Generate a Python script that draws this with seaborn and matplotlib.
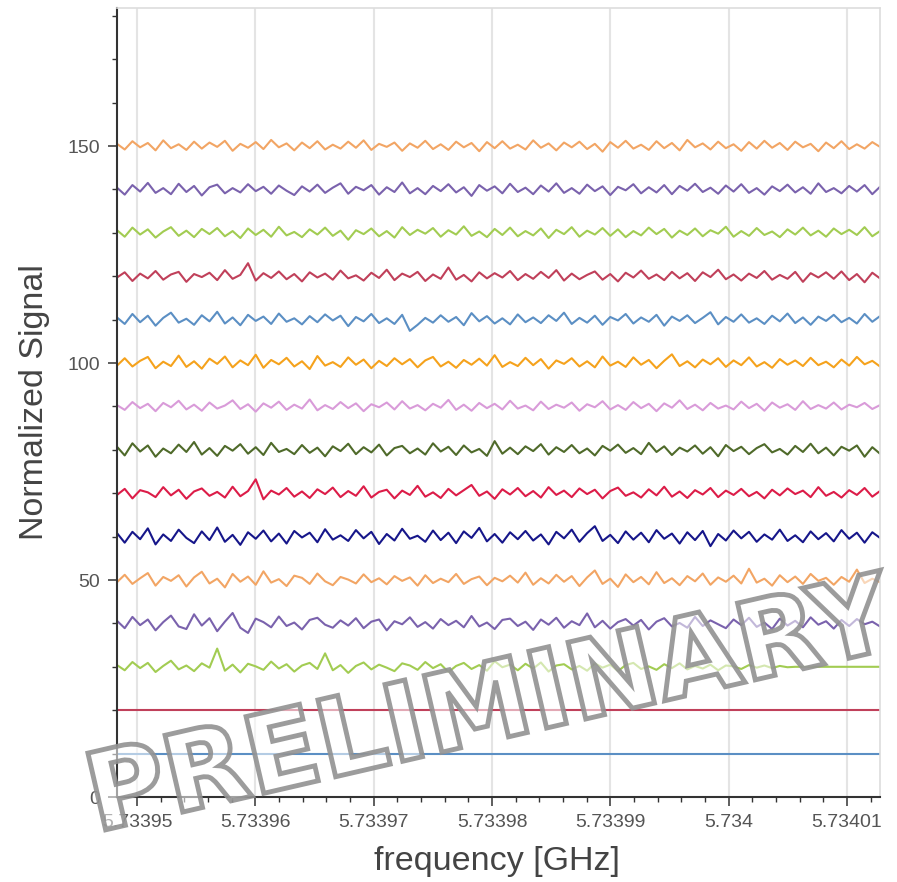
import numpy as np
import pandas as pd
import matplotlib
matplotlib.use("Agg")
import matplotlib.pyplot as plt
import seaborn as sns
from matplotlib.textpath import TextPath
from matplotlib.patches import PathPatch
from matplotlib.font_manager import FontProperties
from matplotlib.transforms import Affine2D
from matplotlib.ticker import FixedLocator, MultipleLocator

# Frequency sweep (GHz)
freq_start = 5.7339483
freq_stop = 5.7340128

# Vertical offset of each stacked trace
offsets = [10, 20, 30, 40, 50, 60, 70, 80, 90, 100, 110, 120, 130, 140, 150]

# Deviations around each offset
dev_10 = [0.0, 0.0]
dev_20 = [0.0, 0.0]
dev_30 = [0.4,-0.8,1.1,-0.3,0.9,-1.2,0.2,1.4,-0.6,0.3,-1.0,0.8,-0.2,4.2,-0.9,0.5,-1.3,0.7,0.1,-0.7,1.2,-0.4,0.6,-1.1,0.3,0.9,-0.5,3.1,-0.8,0.4,-1.4,0.2,1.0,-0.6,0.5,-0.2,-1.0,0.8,0.3,-0.7,1.1,-0.3,0.6,-1.2,0.2,0.9,-0.5,0.4,-0.9,1.3,-0.1,0.5,-0.8,0.7,-0.4,1.0,-1.1,0.3,0.6,-0.6,0.2,-0.9,0.8,-0.2,0.5,-1.0,0.4,0.9,-0.5,0.1,-0.7,0.6,-0.3,0.8,-0.6,0.2,-0.4,0.5,-0.8,0.3,0.1,-0.5,0.4,-0.2,0.3,-0.3,0.2,-0.1,0.0,0.0,0.0,0.0,0.0,0.0,0.0,0.0,0.0,0.0,0.0,0.0]
dev_40 = [0.6,-1.1,1.5,-0.4,0.9,-1.6,0.3,1.8,-0.7,-1.3,2.1,-0.5,1.2,-1.8,0.4,2.4,-1.0,-2.2,1.1,0.3,-0.9,1.6,-0.6,0.2,-1.4,0.8,1.3,-0.3,-1.0,0.7,-0.5,1.2,-1.1,0.4,0.9,-1.6,0.5,-0.2,1.4,-0.8,0.3,-1.2,1.0,-0.4,0.6,-0.9,1.7,-0.7,0.2,-1.3,0.8,1.1,-0.6,0.4,-1.5,0.9,-0.3,1.3,-1.0,0.5,-0.4,2.3,-0.9,0.6,-1.2,0.3,1.0,-0.5,0.8,-1.4,0.4,1.2,-0.7,0.1,-1.0,1.5,-0.6,0.7,-0.2,-1.1,0.9,-0.4,1.3,-0.8,0.2,-1.3,1.1,-0.5,0.6,-0.9,1.4,-0.3,0.5,-1.2,0.8,-0.6,1.0,-0.2,0.4,-0.7]
dev_50 = [-0.5,1.2,-0.9,0.4,1.6,-1.3,0.7,-0.2,1.1,-1.5,0.6,1.9,-0.8,0.3,-1.7,1.4,-0.4,0.8,-1.1,2.0,-0.6,0.2,-1.4,1.0,0.5,-0.9,1.5,-0.3,-1.2,0.7,0.1,-0.8,1.3,-0.5,0.4,-1.0,0.9,-0.2,0.6,-1.3,1.1,-0.7,0.3,-0.5,1.4,-0.9,0.2,0.8,-1.2,0.5,-0.3,1.0,-0.6,1.7,-1.1,0.4,-0.8,1.2,-0.4,0.9,-1.4,0.6,2.2,-0.9,0.3,-1.6,1.3,-0.5,0.7,-1.0,1.8,-0.7,0.4,-1.2,0.9,-0.3,1.5,-1.1,0.6,-0.4,1.0,-0.8,2.6,-0.6,0.3,-1.3,1.1,-0.5,0.8,-0.9,1.4,-0.2,0.5,-1.1,0.7,-0.4,2.4,-0.7,0.3,-0.5]
dev_60 = [0.8,-1.4,1.1,-0.6,1.9,-1.8,0.5,-1.0,1.6,-0.3,-1.5,1.2,-0.8,2.1,-1.2,0.4,-1.9,1.0,-0.5,1.4,-1.1,0.7,-1.6,1.3,-0.2,0.9,-1.3,1.7,-0.7,0.3,-1.0,1.5,-0.4,1.1,-1.7,0.6,-0.9,1.8,-0.5,0.2,-1.2,1.4,-0.8,0.9,-1.5,1.2,-0.3,2.0,-1.1,0.6,-1.4,1.0,-0.6,1.3,-0.9,0.5,-1.8,1.1,-0.4,1.6,-1.2,0.8,2.4,-1.0,0.4,-1.5,1.2,-0.7,0.9,-1.3,1.5,-0.5,0.7,-1.6,1.0,-0.8,1.3,-2.2,0.6,-0.9,1.4,-0.4,1.1,-1.2,0.5,-0.7,1.6,-1.0,0.3,-1.3,1.2,-0.6,0.8,-1.1,1.5,-0.5,0.9,-1.4,1.0,-0.3]
dev_70 = [-0.4,1.0,-1.2,0.7,0.2,-0.9,1.4,-0.5,0.8,-1.3,0.4,1.1,-0.6,0.3,-1.0,1.5,-0.7,0.5,3.2,-1.4,0.6,-0.3,1.2,-0.8,0.4,-1.1,0.9,-0.2,1.3,-0.9,0.5,-0.6,1.6,-1.0,0.3,0.8,-1.2,0.6,-0.4,1.7,-0.8,0.2,-1.1,1.0,-0.5,0.7,1.9,-0.6,0.4,-1.3,0.9,-0.3,1.2,-0.7,0.5,-1.0,1.4,-0.4,0.6,-0.9,1.1,-0.2,0.8,-1.2,0.5,1.3,-0.6,0.2,-1.0,0.9,-0.5,1.5,-0.8,0.4,-1.1,0.7,-0.3,1.2,-0.9,0.6,-0.4,1.0,-0.7,0.3,-1.2,0.8,-0.5,1.1,-0.2,0.6,-0.9,1.4,-0.6,0.3,-1.0,0.7,-0.4,1.2,-0.8,0.5]
dev_80 = [0.7,-1.3,1.5,-0.4,1.0,-1.6,0.3,-0.8,1.2,-0.5,1.8,-1.1,0.4,-1.4,0.9,-0.2,1.3,-0.9,0.6,-1.2,1.6,-0.5,0.2,-1.0,1.1,-0.7,0.5,-1.5,0.8,-0.3,1.4,-1.0,0.6,-0.6,1.2,-1.3,0.4,0.9,-0.8,0.3,-1.1,1.5,-0.4,0.7,-1.2,1.0,-0.6,0.2,-1.4,2.0,-0.9,0.5,-1.0,0.8,-0.3,1.3,-1.1,0.6,-0.5,1.1,-0.8,0.3,-1.3,0.9,-0.2,1.2,-0.7,0.4,-1.0,1.6,-0.5,0.8,-1.2,0.5,-0.4,1.0,-0.9,0.6,-1.5,1.1,-0.3,0.7,-1.0,0.4,1.3,-0.6,0.2,-1.1,0.9,-0.5,1.4,-0.8,0.5,-1.3,0.7,-0.2,1.0,-1.6,0.6,-0.9]
dev_90 = [0.3,-0.8,1.0,-0.4,0.6,-1.1,0.8,-0.2,1.3,-0.7,0.4,-1.0,0.9,-0.5,0.2,1.4,-0.6,0.5,-1.2,0.7,-0.3,1.1,-0.8,0.4,-0.5,1.6,-0.9,0.3,-0.6,1.0,-0.4,0.7,-1.1,0.5,-0.2,0.9,-0.7,1.2,-0.5,0.3,-0.9,0.6,-0.3,1.5,-0.8,0.4,-1.0,0.8,-0.4,0.6,-0.7,1.3,-0.5,0.2,-0.9,1.1,-0.6,0.4,-0.3,0.9,-1.0,0.5,-0.2,1.2,-0.7,0.3,-0.8,1.0,-0.4,0.6,-1.1,0.7,-0.3,1.4,-0.6,0.4,-0.9,0.8,-0.5,0.2,-0.7,1.1,-0.4,0.6,-1.0,0.9,-0.3,0.5,-0.8,1.2,-0.6,0.3,-0.5,0.9,-0.7,0.4,-0.2,0.8,-0.6,0.3]
dev_100 = [-0.6,1.1,-0.8,0.5,1.4,-1.2,0.3,-0.7,1.7,-0.9,0.4,-1.3,1.0,-0.2,1.5,-1.0,0.6,-0.5,1.9,-1.1,0.7,-0.3,1.2,-0.8,0.4,-1.4,1.6,-0.6,0.2,-0.9,1.3,-0.4,0.8,-1.2,0.5,-0.7,1.1,-0.3,0.9,-1.0,0.6,1.4,-0.8,0.3,-1.1,0.7,-0.4,1.0,-0.6,1.8,-0.9,0.2,-0.7,1.2,-0.5,0.9,-1.3,0.6,-0.2,1.1,-0.8,0.4,-1.0,1.5,-0.6,0.3,-0.9,1.3,-0.4,0.7,-1.2,0.5,2.0,-0.7,0.4,-1.0,0.8,-0.3,1.1,-0.9,0.6,-0.5,1.3,-0.8,0.2,-1.1,0.9,-0.4,0.6,-0.7,1.2,-0.5,0.3,-1.0,0.8,-0.6,1.4,-0.3,0.5,-0.8]
dev_110 = [0.5,-1.0,1.3,-0.6,0.9,-1.4,0.4,1.6,-0.7,0.2,-1.2,1.0,-0.4,1.8,-0.9,0.5,-1.3,1.1,-0.3,0.7,-1.0,1.4,-0.5,0.3,-1.1,0.8,-0.6,1.2,-0.2,0.9,-1.5,0.6,-0.4,1.3,-0.8,0.3,-1.0,1.1,-2.6,-1.2,0.4,-0.7,1.0,-0.5,0.6,-1.3,1.5,-0.4,0.8,-0.9,0.3,-1.1,1.2,-0.6,0.5,-0.8,1.0,-0.3,1.6,-1.0,0.4,-0.7,0.9,-1.2,0.6,-0.2,1.3,-0.9,0.5,-0.5,1.1,-1.4,0.7,-0.3,1.0,-0.8,0.4,1.7,-1.1,0.6,-0.5,1.2,-0.7,0.3,-1.0,0.9,-0.4,1.4,-0.8,0.5,-1.2,0.7,-0.3,1.1,-0.6,0.4,-0.9,1.3,-0.5,0.8]
dev_120 = [-0.3,0.9,-1.1,0.6,-0.5,1.2,-0.8,0.4,1.0,-1.3,0.5,-0.2,0.8,-0.9,1.4,-0.6,0.3,3.0,-1.0,0.7,-0.4,1.1,-0.7,0.5,-1.2,0.9,-0.3,0.6,-0.8,1.3,-0.5,0.2,-1.0,0.8,-0.4,1.5,-0.9,0.6,-0.2,1.0,-1.1,0.4,-0.6,2.0,-0.8,0.3,-1.2,0.9,-0.5,0.7,-0.3,1.2,-0.9,0.5,-0.6,1.0,-0.4,1.4,-1.0,0.6,-0.7,0.3,1.1,-0.8,0.5,-1.2,0.8,-0.3,1.3,-0.6,0.4,-0.9,1.0,-0.5,0.7,-1.1,0.9,-0.2,1.5,-0.7,0.4,-1.0,0.6,-0.4,1.2,-0.8,0.3,-0.6,1.0,-1.3,0.7,-0.3,0.9,-0.6,1.1,-0.9,0.5,-1.4,0.8,-0.5]
dev_130 = [0.6,-0.9,1.2,-0.4,0.8,-1.1,0.3,1.3,-0.7,0.5,-1.0,0.9,-0.3,1.1,-0.8,0.4,-1.2,1.0,-0.5,0.7,-0.9,1.4,-0.6,0.2,-1.0,0.8,-0.4,1.2,-0.7,0.5,-1.6,0.6,-0.3,1.0,-0.8,0.4,-1.1,1.3,-0.5,0.7,-0.2,1.1,-0.9,0.6,-0.4,1.5,-0.7,0.3,-1.0,0.9,-0.5,1.2,-0.8,0.4,-0.6,1.0,-1.2,0.7,-0.3,1.3,-0.9,0.5,-0.4,1.1,-0.7,0.8,-1.0,0.4,-0.6,1.2,-0.3,0.9,-1.1,0.5,-0.5,1.0,-0.8,0.6,-0.2,1.4,-0.9,0.4,-0.7,1.1,-0.5,0.3,-1.0,0.8,-0.4,1.2,-0.6,0.5,-0.9,1.0,-0.3,0.7,-0.5,1.3,-0.8,0.4]
dev_140 = [0.4,-1.2,1.0,-0.5,1.5,-0.8,0.3,-1.1,1.3,-0.6,0.8,-1.4,0.5,1.1,-0.9,0.3,-0.7,1.2,-0.4,0.6,-1.0,0.9,-0.3,-1.3,0.7,-0.5,1.1,-0.8,0.4,1.4,-1.0,0.6,-0.2,1.0,-1.2,0.5,-0.6,1.6,-0.9,0.3,-1.1,0.8,-0.4,1.2,-0.7,0.5,-1.5,1.0,-0.3,0.7,-0.9,1.3,-0.6,0.4,-1.1,0.9,-0.5,1.4,-0.8,0.3,-1.0,1.1,-0.4,0.7,-1.3,0.6,-0.2,1.2,-0.9,0.5,-0.7,1.0,-1.1,0.8,-0.3,1.3,-0.6,0.4,-1.0,0.9,-0.5,1.2,-0.8,0.3,-1.2,0.7,-0.4,1.1,-0.7,0.5,-1.0,1.4,-0.6,0.3,-0.9,0.8,-0.5,1.0,-1.1,0.6]
dev_150 = [0.5,-0.8,1.1,-0.3,0.7,-1.0,1.3,-0.5,0.4,-0.9,1.0,-0.6,0.8,-0.2,1.2,-1.1,0.5,-0.4,0.9,-0.7,1.4,-0.3,0.6,-1.0,0.8,-0.5,1.1,-0.8,0.3,-0.6,1.0,-0.4,1.3,-0.9,0.5,-0.2,0.8,-1.1,0.6,-0.4,1.2,-0.7,0.4,-0.9,1.0,-0.3,0.7,-1.2,0.9,-0.5,1.1,-0.6,0.3,-0.8,1.3,-0.4,0.6,-1.0,0.8,-0.3,1.0,-0.7,0.5,-1.3,0.9,-0.4,1.2,-0.6,0.3,-0.9,1.1,-0.5,0.7,-1.0,1.4,-0.3,0.6,-0.8,1.0,-0.5,0.4,-1.1,0.9,-0.6,1.2,-0.4,0.7,-0.9,1.0,-0.3,0.5,-1.2,0.8,-0.5,1.1,-0.7,0.4,-0.6,0.9,-0.2]

deviations = [dev_10, dev_20, dev_30, dev_40, dev_50, dev_60, dev_70, dev_80,
              dev_90, dev_100, dev_110, dev_120, dev_130, dev_140, dev_150]

# Ten-colour cycle, repeated for the upper traces
cycle_colors = ["#5b8fc4", "#c0405a", "#a2cc52", "#7a62ad", "#f2a564",
                "#16168a", "#dc1c48", "#4f6a2a", "#d99bd9", "#f5a21c"]

x_ticks = [5.73395, 5.73396, 5.73397, 5.73398, 5.73399, 5.73400, 5.73401]
x_tick_labels = ["5.73395", "5.73396", "5.73397", "5.73398", "5.73399", "5.734", "5.73401"]
y_ticks = [0, 50, 100, 150]

# Long-form table: one row per sample
frames = []
for off, dev in zip(offsets, deviations):
    f = np.linspace(freq_start, freq_stop, len(dev))
    frames.append(pd.DataFrame({"freq": f, "signal": off + np.asarray(dev),
                                "trace": str(off)}))
df = pd.concat(frames, ignore_index=True)
palette = {str(o): cycle_colors[i % 10] for i, o in enumerate(offsets)}

sns.set_theme(style="white")
plt.rcParams["font.family"] = ["Liberation Sans", "DejaVu Sans"]

fig = plt.figure(figsize=(8.97, 8.82), dpi=100)
ax = fig.add_axes([117 / 897, 1 - 797 / 882, (880 - 117) / 897, (797 - 8) / 882])

sns.lineplot(data=df, x="freq", y="signal", hue="trace", palette=palette,
             estimator=None, sort=False, legend=False, linewidth=1.5, ax=ax)

ax.set_xlim(freq_start, freq_stop)
ax.set_ylim(0, 181.8)

ax.xaxis.set_major_locator(FixedLocator(x_ticks))
ax.set_xticklabels(x_tick_labels)
ax.xaxis.set_minor_locator(MultipleLocator(0.2e-5))
ax.set_yticks(y_ticks)
ax.yaxis.set_minor_locator(MultipleLocator(10))

ax.grid(axis="x", which="major", color="#e4e4e4", linewidth=1.5)
ax.grid(axis="y", visible=False)
ax.set_axisbelow(True)

for side in ("top", "right"):
    ax.spines[side].set_color("#dddddd")
    ax.spines[side].set_linewidth(1.2)
for side in ("left", "bottom"):
    ax.spines[side].set_color("#333333")
    ax.spines[side].set_linewidth(1.5)

ax.tick_params(axis="both", which="major", direction="out", length=6.5, width=1.1,
               color="#333333", labelsize=14, labelcolor="#555555")
ax.tick_params(axis="both", which="minor", direction="out", length=3.5, width=1.0,
               color="#333333")
ax.tick_params(axis="x", which="major", pad=6)
ax.tick_params(axis="y", which="major", pad=6)
ax.tick_params(top=False, right=False, which="both")
ax.tick_params(left=True, bottom=True, which="both")

ax.set_xlabel("frequency [GHz]", fontsize=24.5, color="#444444")
ax.set_ylabel("Normalized Signal", fontsize=24.5, color="#444444")
ax.xaxis.set_label_coords(0.498, -0.062)
ax.yaxis.set_label_coords(-0.088, 0.5)

# Outlined watermark across the lower half of the plot
fp = FontProperties(family="DejaVu Sans", weight="bold")
tp = TextPath((0, 0), "PRELIMINARY", size=108, prop=fp)
bb = tp.get_extents()
tr = (Affine2D()
      .translate(-(bb.x0 + bb.x1) / 2, -(bb.y0 + bb.y1) / 2)
      .rotate_deg(13)
      .translate(493, 882 - 700))
mark = PathPatch(tp, transform=tr, facecolor=(1, 1, 1, 0.55),
                 edgecolor=(0.57, 0.57, 0.57, 0.9), linewidth=3.5, zorder=10)
fig.add_artist(mark)

fig.savefig("out.png", dpi=100)
